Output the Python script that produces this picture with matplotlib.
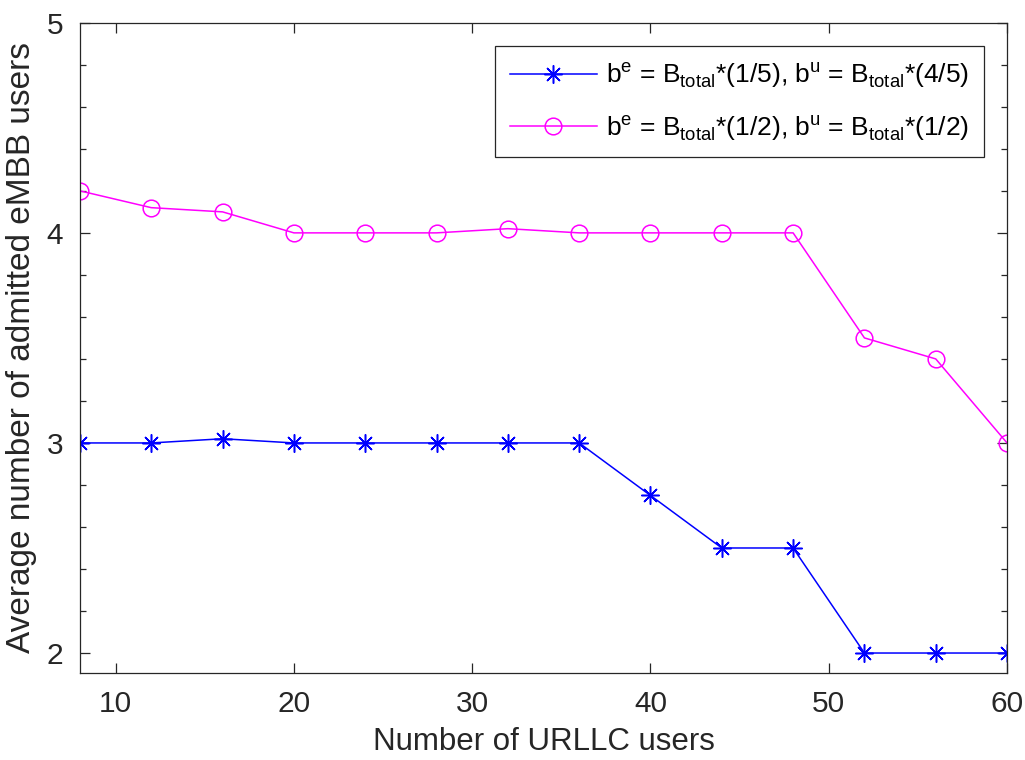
import matplotlib
matplotlib.use('Agg')
from matplotlib import pyplot as plt
from matplotlib.ticker import MultipleLocator

plt.rcParams['font.family'] = ['Liberation Sans', 'DejaVu Sans']
plt.rcParams['mathtext.fontset'] = 'custom'
plt.rcParams['mathtext.rm'] = 'Liberation Sans'

# data
urllc_users = [8, 12, 16, 20, 24, 28, 32, 36, 40, 44, 48, 52, 56, 60]
embb_1_5 = [3, 3, 3.02, 3, 3, 3, 3, 3, 2.75, 2.5, 2.5, 2, 2, 2]
embb_1_2 = [4.2, 4.12, 4.1, 4, 4, 4, 4.02, 4, 4, 4, 4, 3.5, 3.4, 3]
labels = [
    r'b$^{\mathregular{e}}$ = B$_{\mathregular{total}}$*(1/5), b$^{\mathregular{u}}$ = B$_{\mathregular{total}}$*(4/5)',
    r'b$^{\mathregular{e}}$ = B$_{\mathregular{total}}$*(1/2), b$^{\mathregular{u}}$ = B$_{\mathregular{total}}$*(1/2)',
]

dark = '#262626'

fig = plt.figure(figsize=(10.25, 7.6), dpi=100)
ax = fig.add_axes([0.078, 0.1145, 0.9045, 0.8555])

ax.plot(urllc_users, embb_1_5, color='#0000FF', lw=1.1, marker=(8, 2, 0),
        ms=13, mew=1.1, label=labels[0])
ax.plot(urllc_users, embb_1_2, color='#FF00FF', lw=1.1, marker='o',
        ms=12, mew=1.1, mfc='none', label=labels[1])

ax.set_xlim(8, 60)
ax.set_ylim(1.905, 5)
ax.xaxis.set_major_locator(MultipleLocator(10))
ax.yaxis.set_major_locator(MultipleLocator(1))
ax.yaxis.set_minor_locator(MultipleLocator(0.2))

ax.tick_params(which='both', direction='in', top=True, right=True,
               colors=dark, labelsize=21.5, width=0.9)
ax.tick_params(which='major', length=7, pad=12)
ax.tick_params(which='minor', length=4)
ax.tick_params(axis='x', which='minor', bottom=False, top=False)
for s in ax.spines.values():
    s.set_color(dark)
    s.set_linewidth(0.9)

ax.set_xlabel('Number of URLLC users', fontsize=22.5, color=dark, labelpad=7)
ax.set_ylabel('Average number of admitted eMBB users', fontsize=24, color=dark, labelpad=7)

leg = ax.legend(loc='upper right', fontsize=19, handlelength=3.3, handletextpad=0.35,
                fancybox=False, framealpha=1, edgecolor=dark, borderpad=0.55,
                labelspacing=0.85, borderaxespad=0, bbox_to_anchor=(0.975, 0.964))
leg.get_frame().set_linewidth(0.9)

fig.savefig('out.png', dpi=100)
